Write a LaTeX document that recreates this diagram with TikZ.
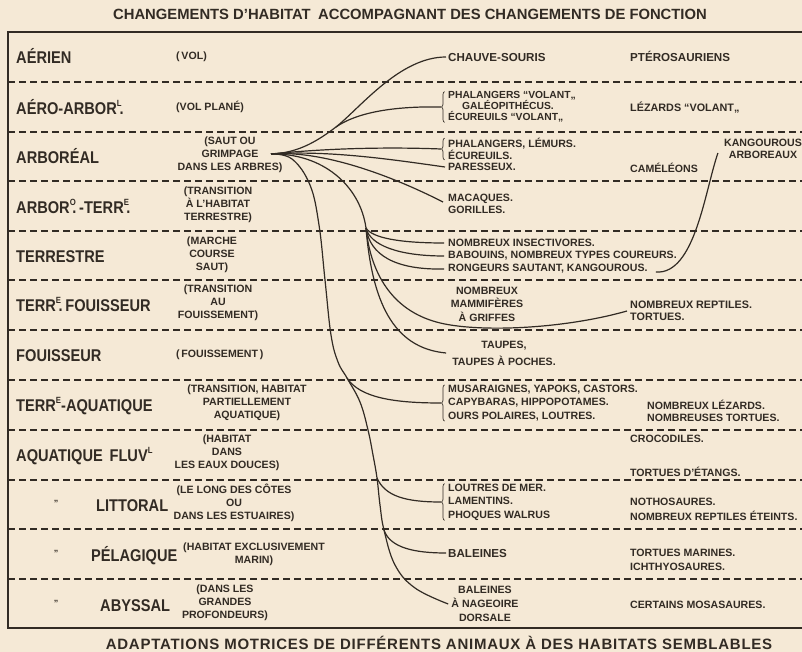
\documentclass[tikz,border=0pt]{standalone}
\usepackage{fontspec}
\setmainfont{Liberation Sans}
\newfontfamily\habfont[FakeStretch=0.86]{Liberation Sans}
\newfontfamily\capfont[LetterSpace=5]{Liberation Sans}
\usetikzlibrary{decorations.pathreplacing}

\definecolor{paper}{RGB}{245,233,214}
\definecolor{ink}{RGB}{50,43,36}

% raised abbreviation letter, with or without its dot below
\newcommand\abbrev[1]{\makebox[0pt][l]{\raisebox{0.42em}{\fontsize{9}{9}\selectfont #1}}\makebox[0.55em][c]{.}}
\newcommand\abbrevnd[1]{\raisebox{0.42em}{\fontsize{9}{9}\selectfont #1}}

\tikzset{
  habitat/.style={anchor=west, inner sep=0pt, text=ink, text height=12.2pt, text depth=0pt,
    font=\habfont\bfseries\fontsize{17}{17}\selectfont},
  ditto/.style={inner sep=0pt, text=ink, font=\bfseries\fontsize{9}{9}\selectfont},
  role/.style={align=center, inner sep=0pt, text=ink, font=\bfseries\fontsize{10.6}{12.8}\selectfont},
  animal/.style={anchor=west, align=left, inner sep=0pt, text=ink, font=\bfseries\fontsize{10.6}{12.5}\selectfont},
  animalc/.style={align=center, inner sep=0pt, text=ink, font=\bfseries\fontsize{10.6}{13.5}\selectfont},
  bigname/.style={anchor=west, inner sep=0pt, text=ink, text height=8.3pt, text depth=0pt,
    font=\bfseries\fontsize{11.6}{12}\selectfont},
  heading/.style={inner sep=0pt, text=ink, font=\bfseries\fontsize{14.8}{15}\selectfont},
  divider/.style={draw=ink, line width=1.2pt, dash pattern=on 7pt off 4pt},
  frame/.style={draw=ink, line width=1.8pt},
  branch/.style={draw=ink, line width=1.2pt},
  grp/.style={draw=ink, line width=0.7pt, decorate, decoration={brace, amplitude=3pt}},
}

\begin{document}
\begin{tikzpicture}[x=1pt,y=-1pt]
\fill[paper] (0,0) rectangle (802,652);
\useasboundingbox (0,0) rectangle (802,652);
\begin{scope}
\clip (0,0) rectangle (802,652);

% headings
\node[heading] (title) at (410,14) {CHANGEMENTS D'HABITAT\hspace{0.5em}ACCOMPAGNANT DES CHANGEMENTS DE FONCTION};
\node[heading, font=\capfont\bfseries\fontsize{15}{15}\selectfont] (caption) at (439,643)
  {ADAPTATIONS MOTRICES DE DIFFÉRENTS ANIMAUX À DES HABITATS SEMBLABLES};

% frame and row dividers
\draw[frame] (802,32) -- (8,32) -- (8,628) -- (802,628);
\foreach \y in {82,132,181,231,280,330,380,430,480,529,579}
  \draw[divider] (8,\y) -- (802,\y);

% habitats
\node[habitat] (h1) at (16,57) {AÉRIEN};
\node[habitat] (h2) at (16,108) {AÉRO-ARBOR\abbrev{L}};
\node[habitat] (h3) at (16,157) {ARBORÉAL};
\node[habitat] (h4) at (16,207) {ARBOR\abbrev{O}-TERR\abbrev{E}};
\node[habitat] (h5) at (16,256) {TERRESTRE};
\node[habitat] (h6) at (16,305) {TERR\abbrev{E}FOUISSEUR};
\node[habitat] (h7) at (16,355) {FOUISSEUR};
\node[habitat] (h8) at (16,405) {TERR\abbrevnd{E}-AQUATIQUE};
\node[habitat] (h9) at (16,455) {AQUATIQUE\hspace{0.4em}FLUV\abbrevnd{L}};
\node[habitat] (h10) at (96,505) {LITTORAL};
\node[habitat] (h11) at (91,555) {PÉLAGIQUE};
\node[habitat] (h12) at (100,605) {ABYSSAL};
\node[ditto] (d10) at (56,503) {"};
\node[ditto] (d11) at (56,553) {"};
\node[ditto] (d12) at (56,603) {"};

% modes of locomotion
\node[role, anchor=west] (r1) at (176,57) {(\,VOL)};
\node[role, anchor=west] (r2) at (176,107) {(VOL PLANÉ)};
\node[role] (r3) at (230,155) {(SAUT OU\\GRIMPAGE\\DANS LES ARBRES)};
\node[role] (r4) at (218,205) {(TRANSITION\\À L'HABITAT\\TERRESTRE)};
\node[role] (r5) at (212,255) {(MARCHE\\COURSE\\SAUT)};
\node[role] (r6) at (218,303) {(TRANSITION\\AU\\FOUISSEMENT)};
\node[role, anchor=west] (r7) at (176,355) {(\,FOUISSEMENT\,)};
\node[role] (r8) at (247,403) {(TRANSITION, HABITAT\\PARTIELLEMENT\\AQUATIQUE)};
\node[role] (r9) at (227,453) {(HABITAT\\DANS\\LES EAUX DOUCES)};
\node[role] (r10) at (234,503) {(LE LONG DES CÔTES\\OU\\DANS LES ESTUAIRES)};
\node[role] (r11) at (254,554) {(HABITAT EXCLUSIVEMENT\\MARIN)};
\node[role] (r12) at (225,603) {(DANS LES\\GRANDES\\PROFONDEURS)};

% mammals
\node[bigname] (a1) at (448,57) {CHAUVE-SOURIS};
\node[animal, font=\bfseries\fontsize{10.3}{10.8}\selectfont] (g2) at (448,107)
  {PHALANGERS “VOLANT„\\\hspace*{14pt}GALÉOPITHÉCUS.\\ÉCUREUILS “VOLANT„};
\node[animal, font=\bfseries\fontsize{10.6}{12}\selectfont] (g3) at (448,149) {PHALANGERS, LÉMURS.\\ÉCUREUILS.};
\node[animal] (a3) at (448,167) {PARESSEUX.};
\node[animal, font=\bfseries\fontsize{10.6}{12}\selectfont] (a4) at (448,204) {MACAQUES.\\GORILLES.};
\node[animal] (a5a) at (448,243) {NOMBREUX INSECTIVORES.};
\node[animal] (a5b) at (448,256) {BABOUINS, NOMBREUX TYPES COUREURS.};
\node[animal] (a5c) at (448,269) {RONGEURS SAUTANT, KANGOUROUS.};
\node[animalc] (a6) at (487,304) {NOMBREUX\\MAMMIFÈRES\\À GRIFFES};
\node[animalc, font=\bfseries\fontsize{10.6}{17}\selectfont] (a7) at (504,353) {TAUPES,\\TAUPES À POCHES.};
\node[animal, font=\bfseries\fontsize{10.6}{13.5}\selectfont] (g8) at (448,403)
  {MUSARAIGNES, YAPOKS, CASTORS.\\CAPYBARAS, HIPPOPOTAMES.\\OURS POLAIRES, LOUTRES.};
\node[animal, font=\bfseries\fontsize{10.6}{13.5}\selectfont] (g10) at (448,502)
  {LOUTRES DE MER.\\LAMENTINS.\\PHOQUES WALRUS};
\node[bigname] (a11) at (448,553) {BALEINES};
\node[animalc, font=\bfseries\fontsize{10.6}{14}\selectfont] (a12) at (485,604) {BALEINES\\À NAGEOIRE\\DORSALE};

% other animals
\node[bigname] (b1) at (630,57) {PTÉROSAURIENS};
\node[bigname, font=\bfseries\fontsize{10.8}{12}\selectfont] (b2) at (630,107) {LÉZARDS “VOLANT„};
\node[animal] (b3) at (630,168) {CAMÉLÉONS};
\node[animalc, font=\bfseries\fontsize{10.6}{12.5}\selectfont] (b4) at (763,149) {KANGOUROUS\\ARBOREAUX};
\node[animal, font=\bfseries\fontsize{10.8}{12}\selectfont] (b6) at (630,311) {NOMBREUX REPTILES.\\TORTUES.};
\node[animal] (b8) at (647,411) {NOMBREUX LÉZARDS.\\NOMBREUSES TORTUES.};
\node[animal] (b9a) at (630,439) {CROCODILES.};
\node[animal] (b9b) at (630,472) {TORTUES D'ÉTANGS.};
\node[animal, font=\bfseries\fontsize{10.6}{15}\selectfont] (b10) at (630,509) {NOTHOSAURES.\\NOMBREUX REPTILES ÉTEINTS.};
\node[animal, font=\bfseries\fontsize{10.6}{14}\selectfont] (b11) at (630,560) {TORTUES MARINES.\\ICHTHYOSAURES.};
\node[animal] (b12) at (630,605) {CERTAINS MOSASAURES.};

% braces grouping several names
\foreach \g in {g2,g3,g8,g10}{
  \draw[grp] ([xshift=-3.5pt]\g.south west) -- ([xshift=-3.5pt]\g.north west);
  \coordinate (\g tip) at ([xshift=-7pt]\g.west);
}

% branch points and ends of the connectors
\coordinate (root) at (271,154);
\coordinate (f1) at (336,127);
\coordinate (t2) at (366,228);
\coordinate (k3) at (347,378);
\coordinate (k5) at (377,478);
\coordinate (k6) at (384,530);
\coordinate (e1) at ([xshift=-2pt]a1.west);
\coordinate (e4) at ([xshift=-3pt]a3.west);
\coordinate (e5) at ([shift={(-5pt,2pt)}]a4.west);
\coordinate (e6) at ([xshift=-4pt]a5a.west);
\coordinate (e7) at ([xshift=-4pt]a5b.west);
\coordinate (e8) at ([xshift=-4pt]a5c.west);
\coordinate (e9) at ([xshift=-3pt]b6.west);
\coordinate (e10) at ([xshift=-6pt]a7.west);
\coordinate (e13) at ([xshift=-2pt]a11.west);
\coordinate (e14) at ([xshift=-3pt]a12.west);

% tree of the mammals
\draw[branch] (root) .. controls (300,153) and (320,139) .. (f1)
  .. controls (361,107) and (400,57) .. (e1);
\draw[branch] (f1) .. controls (356,113) and (392,106) .. (g2tip);
\draw[branch] (root) .. controls (330,148) and (390,147) .. (g3tip);
\draw[branch] (root) .. controls (330,150) and (395,160) .. (e4);
\draw[branch] (root) .. controls (322,150) and (390,175) .. (e5);
\draw[branch] plot[smooth, tension=0.65] coordinates {(root) (292,159) (310,185) (319,225) (325,280)
  (331,335) (338,362) (k3) (360,402) (368,430) (373,455) (k5) (380,505) (k6) (395,565) (415,588) (e14)};
\draw[branch] (root) .. controls (322,153) and (360,185) .. (t2);
\draw[branch] (t2) .. controls (372,238) and (400,243) .. (e6);
\draw[branch] (t2) .. controls (370,245) and (398,256) .. (e7);
\draw[branch] (t2) .. controls (370,255) and (395,270) .. (e8);
\draw[branch] (t2) .. controls (370,268) and (388,307) .. (433,321)
  .. controls (470,333) and (560,330) .. (e9);
\draw[branch] (t2) .. controls (372,300) and (392,348) .. (e10);
\draw[branch] (k3) .. controls (360,398) and (395,403) .. (g8tip);
\draw[branch] (k5) .. controls (385,496) and (405,502) .. (g10tip);
\draw[branch] (k6) .. controls (390,548) and (415,553) .. (e13);

% tree kangaroos climbing back up
\draw[branch] ([shift={(8pt,-3pt)}]a5c.east) .. controls (695,275) and (705,190) .. ([shift={(-6pt,-4pt)}]b4.west);
\end{scope}
\end{tikzpicture}
\end{document}
